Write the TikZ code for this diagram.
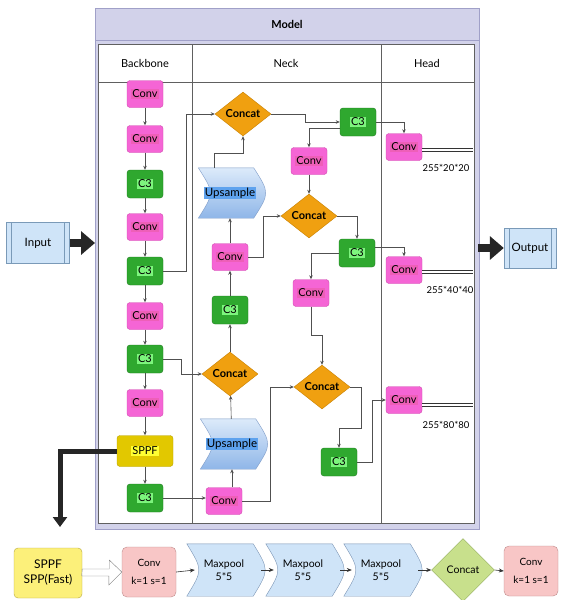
\documentclass[tikz,border=0pt]{standalone}
\usepackage{fontspec}
\setmainfont{Lato}
\usepackage{tikz}
\usetikzlibrary{arrows.meta, calc, positioning, shapes.geometric, backgrounds}

\definecolor{convc}{HTML}{F565D5}
\definecolor{convh}{HTML}{EE5FB8}
\definecolor{convd}{HTML}{D04CB0}
\definecolor{c3c}{HTML}{2FA82F}
\definecolor{c3h}{HTML}{7DF57D}
\definecolor{c3d}{HTML}{1E7A1E}
\definecolor{catc}{HTML}{F0A010}
\definecolor{catd}{HTML}{C88000}
\definecolor{sppfc}{HTML}{E2C800}
\definecolor{sppfh}{HTML}{FFFF33}
\definecolor{sppfd}{HTML}{B8A000}
\definecolor{upt}{HTML}{DCEAFA}
\definecolor{upb}{HTML}{8FB6E8}
\definecolor{uph}{HTML}{5EA2EE}
\definecolor{upd}{HTML}{7F9CC8}
\definecolor{lav}{HTML}{D2D2EA}
\definecolor{lavd}{HTML}{A0A0C8}
\definecolor{gridc}{HTML}{606060}
\definecolor{linec}{HTML}{505050}
\definecolor{inpc}{HTML}{CFE4F8}
\definecolor{inpd}{HTML}{7A9AB8}
\definecolor{sxc}{HTML}{FCF07A}
\definecolor{sxd}{HTML}{B8A840}
\definecolor{kxc}{HTML}{F8C6C6}
\definecolor{kxd}{HTML}{C08C8C}
\definecolor{mpc}{HTML}{CFE4F8}
\definecolor{mpd}{HTML}{7A94B4}
\definecolor{cxc}{HTML}{C8E08C}
\definecolor{cxd}{HTML}{8FAA5A}

\newcommand\hl[2]{{\setlength{\fboxsep}{1pt}\colorbox{#1}{#2}}}
% curved chevron outline round a rectangle node
\newcommand\chevshape[3]{%
  \path[#3] (#1.north west) .. controls ($(#1.west)+(2*#2,0)$) .. (#1.south west)
    -- ($(#1.south east)+(-#2,0)$) .. controls ($(#1.east)+(#2,0)$) .. ($(#1.north east)+(-#2,0)$) -- cycle;}

\begin{document}
\begin{tikzpicture}[x=1pt,y=-1pt,
    font=\fontsize{11}{13}\selectfont,
    conv/.style={draw=convd,fill=convc,rounded corners=3pt,minimum width=36pt,minimum height=27pt,inner sep=1pt},
    cthree/.style={draw=c3d,fill=c3c,rounded corners=3pt,minimum width=36pt,minimum height=28pt,inner sep=1pt},
    sppf/.style={draw=sppfd,fill=sppfc,rounded corners=3pt,minimum width=56pt,minimum height=31pt},
    concat/.style={diamond,draw=catd,fill=catc,minimum width=56pt,minimum height=44pt,inner sep=0pt,font=\fontsize{11}{13}\selectfont\bfseries},
    chev/.style={minimum width=63pt,minimum height=50pt,inner sep=0pt,font=\fontsize{11.5}{13}\selectfont},
    procbox/.style={draw=inpd,fill=inpc,minimum height=41pt,font=\fontsize{11.5}{13}\selectfont,
      path picture={\draw[inpd] ([xshift=5pt]path picture bounding box.north west) -- ([xshift=5pt]path picture bounding box.south west);
        \draw[inpd] ([xshift=-5pt]path picture bounding box.north east) -- ([xshift=-5pt]path picture bounding box.south east);}},
    link/.style={draw=linec,line width=0.6pt,-{Stealth[length=4pt,width=3.5pt]}},
    outline/.style={draw=black!80,double,double distance=2.2pt,line width=0.6pt},
    bigarrow/.style={draw=black!85,line width=8pt,-{Triangle[length=14pt,width=23pt]}},
    dimlbl/.style={font=\fontsize{9.5}{11}\selectfont},
    sxbox/.style={draw=sxd,fill=sxc,rounded corners=4pt,minimum width=68pt,minimum height=50pt,inner sep=1pt,align=center,font=\fontsize{12}{15}\selectfont},
    kbox/.style={draw=kxd,fill=kxc,rounded corners=5pt,minimum width=54pt,minimum height=50pt,inner sep=1pt,align=center,font=\fontsize{10}{12}\selectfont},
    mpbox/.style={minimum width=74pt,minimum height=52pt,inner sep=0pt,align=center,font=\fontsize{10.5}{13}\selectfont},
    cxbox/.style={diamond,draw=cxd,fill=cxc,minimum width=63pt,minimum height=63pt,inner sep=0pt,font=\fontsize{10.5}{13}\selectfont},
    blink/.style={draw=black!80,line width=0.6pt,-{Stealth[length=5pt,width=4pt]}}]
\useasboundingbox (0,0) rectangle (565,600);
\begin{scope}[on background layer]
  \fill[white] (0,0) rectangle (565,600);
  \draw[lavd,fill=lav] (95,8) rectangle (479,529); %frame
  \draw[lavd] (95,40) -- (479,40);
  \draw[gridc,fill=white] (98,44) rectangle (474,523); %table
  \draw[gridc] (98,82) -- (474,82);
  \draw[gridc] (192,44) -- (192,523);
  \draw[gridc] (381,44) -- (381,523);
\end{scope}

\node (model) at (287,24) {\bfseries Model};
\node (bbh) at (145,63) {Backbone};
\node (nkh) at (286,63) {Neck};
\node (hdh) at (427,63) {Head};

% backbone
\node[conv] (b1) at (145,94) {\hl{convh}{Conv}};
\node[conv] (b2) at (145,139) {\hl{convh}{Conv}};
\node[cthree] (b3) at (145,184) {\hl{c3h}{C3}};
\node[conv] (b4) at (145,227) {\hl{convh}{Conv}};
\node[cthree] (b5) at (145,271) {\hl{c3h}{C3}};
\node[conv] (b6) at (145,316) {\hl{convh}{Conv}};
\node[cthree] (b7) at (145,359) {\hl{c3h}{C3}};
\node[conv] (b8) at (145,403) {\hl{convh}{Conv}};
\node[sppf] (b9) at (145,451) {\hl{sppfh}{SPPF}};
\node[cthree] (b10) at (145,498) {\hl{c3h}{C3}};
\foreach \a/\b in {b1/b2,b2/b3,b3/b4,b4/b5,b5/b6,b6/b7,b7/b8,b8/b9,b9/b10}
  \draw[link] (\a) -- (\b);

% neck, left
\node[concat] (n1) at (243,114) {Concat};
\node[chev] (n2) at (230,193) {\hl{uph}{Upsample}};
\node[conv] (n3) at (230,257) {\hl{convh}{Conv}};
\node[cthree] (n4) at (230,310) {\hl{c3h}{C3}};
\node[concat] (n5) at (230,374) {Concat};
\node[chev] (n6) at (232,444) {\hl{uph}{Upsample}};
\node[conv] (n7) at (224,501) {\hl{convh}{Conv}};

% neck, right
\node[cthree] (m1) at (358,122) {\hl{c3h}{C3}};
\node[conv] (m2) at (309,161) {\hl{convh}{Conv}};
\node[concat] (m3) at (309,216) {Concat};
\node[cthree] (m4) at (357,253) {\hl{c3h}{C3}};
\node[conv] (m5) at (311,293) {\hl{convh}{Conv}};
\node[concat] (m6) at (322,387) {Concat};
\node[cthree] (m7) at (339,462) {\hl{c3h}{C3}};

% head
\node[conv] (h1) at (404,147) {\hl{convh}{Conv}};
\node[conv] (h2) at (404,270) {\hl{convh}{Conv}};
\node[conv] (h3) at (404,400) {\hl{convh}{Conv}};
\node[dimlbl] (d1) at (446,168) {255*20*20};
\node[dimlbl] (d2) at (450,290) {255*40*40};
\node[dimlbl] (d3) at (446,425) {255*80*80};
\coordinate (o1) at (473,150);
\coordinate (o2) at (473,272);
\coordinate (o3) at (473,405);
\draw[outline] (h1.east |- o1) -- (o1);
\draw[outline] (h2.east |- o2) -- (o2);
\draw[outline] (h3.east |- o3) -- (o3);

% neck links
\draw[link] (n7.north -| n6.south) -- (n6.south);
\draw[link] (n6) -- (n5);
\draw[link] (n5) -- (n4);
\draw[link] (n4) -- (n3);
\draw[link] (n3) -- (n2);
\draw[link] ([xshift=-16pt]n2.north) -- ++(0,-15) -| (n1.south);
\draw[link] (b5.east) -- ++(23,0) |- (n1.west);
\draw[link] (b7.east) -- ++(18,0) |- (n5.west);
\draw[link] (b10.east) -- (b10.east -| n7.west);
\draw[link] (n3.east) -- ++(15,0) |- (m3.west);
\draw[link] (n1.east) -- ++(34,0) |- (m1.west);
\draw[link] (m1.east) -| (h1.north);
\draw[link] ([yshift=-6pt]m1.west) -| (m2.north);
\draw[link] (m2) -- (m3);
\draw[link] (m3.east) -| (m4.north);
\draw[link] ([yshift=6pt]m4.east) -| (h2.north);
\draw[link] (m4.west) -| (m5.north);
\draw[link] (m5.south) -- ++(0,29) -| (m6.north);
\draw[link] (n7.east) -- ++(28,0) |- (m6.west);
\draw[link] (m6.east) -- ++(11,0) -- ++(0,41) -| (m7.north);
\draw[link] (m7.east) -- ++(15,0) |- (h3.west);

% input / output
\node[procbox,minimum width=63pt] (inp) at (38,243) {Input};
\node[procbox,minimum width=52pt,minimum height=40pt] (outp) at (530,248) {Output};
\coordinate (fl) at (95,243);
\coordinate (fr) at (478,248);
\draw[bigarrow] (inp.east) -- (fl);
\draw[bigarrow] (fr) -- (outp.west);
\coordinate (spd) at (60,527);
\draw[draw=black!85,line width=5pt,-{Triangle[length=10pt,width=14pt]}] (b9.west) -| (spd);

% SPPF detail
\node[sxbox] (sx) at (48,573) {SPPF\\SPP(Fast)};
\node[kbox] (kx) at (149,572) {Conv\\[6pt]k=1 s=1};
\node[mpbox] (mp1) at (224,570) {Maxpool\\5*5};
\node[mpbox] (mp2) at (303,570) {Maxpool\\5*5};
\node[mpbox] (mp3) at (381,570) {Maxpool\\5*5};
\node[cxbox] (cx) at (463,570) {Concat};
\node[kbox] (ko) at (531,571) {Conv\\[6pt]k=1 s=1};
\draw[draw=gray,fill=white] ($(sx.east)+(0,-4)$) -- ++(27,0) -- ++(0,-9) -- (kx.west)
  -- ++(-13,13) -- ++(0,-9) -- ++(-27,0) -- cycle; %hollow arrow
\draw[blink] (kx.east) -- ($(mp1.west)+(8,0)$);
\draw[blink] (mp1.east) -- ($(mp2.west)+(8,0)$);
\draw[blink] (mp2.east) -- ($(mp3.west)+(8,0)$);
\draw[blink] (mp3.east) -- (cx.west);
\draw[blink] (cx.east) -- (ko.west);

\begin{scope}[on background layer]
  \foreach \n in {n2,n6} \chevshape{\n}{8}{draw=upd,top color=upt,bottom color=upb};
  \foreach \n in {mp1,mp2,mp3} \chevshape{\n}{8}{draw=mpd,fill=mpc};
\end{scope}
\end{tikzpicture}
\end{document}
